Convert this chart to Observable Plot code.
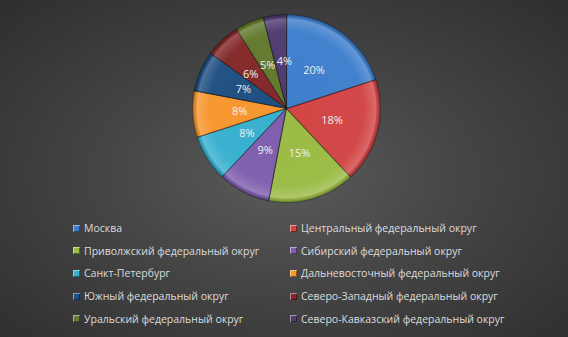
<!DOCTYPE html>
<html><head><meta charset="utf-8">
<script src="https://cdn.jsdelivr.net/npm/d3@7"></script>
<script src="https://cdn.jsdelivr.net/npm/@observablehq/plot@0.6"></script>
<style>
html,body{margin:0;padding:0;background:#3a3a3a;}
#chart{position:relative;width:568px;height:337px;overflow:hidden;
  background:radial-gradient(ellipse farthest-corner at 50% 52%, #5b5b5b 0%, #454545 45%, #2e2e2e 100%);
  font-family:"Open Sans",sans-serif;}
#pie{position:absolute;left:0;top:0;}
#legend{position:absolute;left:73px;top:217px;display:grid;grid-template-columns:217px 250px;grid-auto-rows:22.6px;}
.item{display:flex;align-items:center;font-size:10.5px;color:#dcdcdc;white-space:nowrap;}
.sw{width:7px;height:7px;margin-right:4px;box-shadow:inset 1px 1px 0 rgba(255,255,255,0.45), inset -1px -1px 0 rgba(0,0,0,0.45);}
</style></head>
<body>
<div id="chart"><div id="pie"></div><div id="legend"></div></div>
<script>
const regions = ["Москва","Центральный федеральный округ","Приволжский федеральный округ","Сибирский федеральный округ","Санкт-Петербург","Дальневосточный федеральный округ","Южный федеральный округ","Северо-Западный федеральный округ","Уральский федеральный округ","Северо-Кавказский федеральный округ"];
const shares = [20,18,15,9,8,8,7,6,5,4];
const colors = ["#3e7fcc","#d24545","#9bbb45","#7f5fae","#38b0cf","#f7962f","#1f4f82","#832828","#62792e","#4f3b70"];

const R = 94, CX = 286, CY = 108, FS = 11;
const pie = d3.pie().sort(null).value(d => d.v)(regions.map((n,i)=>({name:n, v:shares[i]})));
// polygon outline of each slice, in unit-circle coordinates
const pts = [];
const step = Math.PI/180;
pie.forEach(s => {
  pts.push({name:s.data.name, x:0, y:0});
  const angs = d3.range(s.startAngle, s.endAngle, step).concat([s.endAngle]);
  angs.forEach(a => pts.push({name:s.data.name, x:Math.sin(a), y:Math.cos(a)}));
});
const labels = pie.map(s => {const m=(s.startAngle+s.endAngle)/2; return {t:s.data.v+"%", x:0.5*Math.sin(m), y:0.5*Math.cos(m)};});
// collision relaxation between neighbouring labels (unit coords)
const ctx = document.createElement("canvas").getContext("2d");
ctx.font = FS + "px 'Open Sans'";
const lw = l => (ctx.measureText(l.t).width + 1.5)/R, lh = 12/R;
for (let it=0; it<60; it++) {
  for (let i=0;i<labels.length;i++) for (let j=i+1;j<labels.length;j++) {
    const a=labels[i], b=labels[j];
    const ox = (lw(a)+lw(b))/2 - Math.abs(a.x-b.x);
    const oy = lh - Math.abs(a.y-b.y);
    if (ox>0 && oy>0) { const s = a.x<b.x?-1:1; a.x += s*ox*0.25; b.x -= s*ox*0.25; }
  }
}

const plot = Plot.plot({
  width:568, height:212, margin:0,
  style:{background:"transparent", overflow:"visible"},
  x:{domain:[-1,1], range:[CX-R, CX+R], axis:null},
  y:{domain:[-1,1], range:[CY+R, CY-R], axis:null},
  color:{domain:regions, range:colors},
  marks:[
    Plot.line(pts, {x:"x", y:"y", z:"name", fill:"name", stroke:"none", curve:"linear-closed"}),
    Plot.line(pts, {x:"x", y:"y", z:"name", fill:"url(#bevel)", stroke:"rgba(20,20,20,0.55)", strokeWidth:0.8, curve:"linear-closed", strokeLinejoin:"round"}),
    Plot.text(labels, {x:"x", y:"y", text:"t", fill:"#f0f0f0", fontSize:FS, fontFamily:"Open Sans"})
  ]
});
document.getElementById("pie").appendChild(plot);
const xs = plot.scale("x"), ys = plot.scale("y");
const cx = xs.apply(0), cy = ys.apply(0), r = xs.apply(1) - xs.apply(0);
const svg = d3.select(plot);
const defs = svg.insert("defs", ":first-child");
const g = defs.append("radialGradient").attr("id","bevel").attr("gradientUnits","userSpaceOnUse")
  .attr("cx",cx).attr("cy",cy).attr("r",r);
[[0,"#fff",0],[0.82,"#fff",0.02],[0.9,"#fff",0.12],[0.95,"#fff",0.2],[0.975,"#000",0.1],[1,"#000",0.35]]
  .forEach(([o,c,a]) => g.append("stop").attr("offset",o).attr("stop-color",c).attr("stop-opacity",a));

const leg = d3.select("#legend");
regions.forEach((n,i) => {
  const it = leg.append("div").attr("class","item");
  it.append("div").attr("class","sw").style("background", colors[i]);
  it.append("span").text(n);
});
</script>
</body></html>
